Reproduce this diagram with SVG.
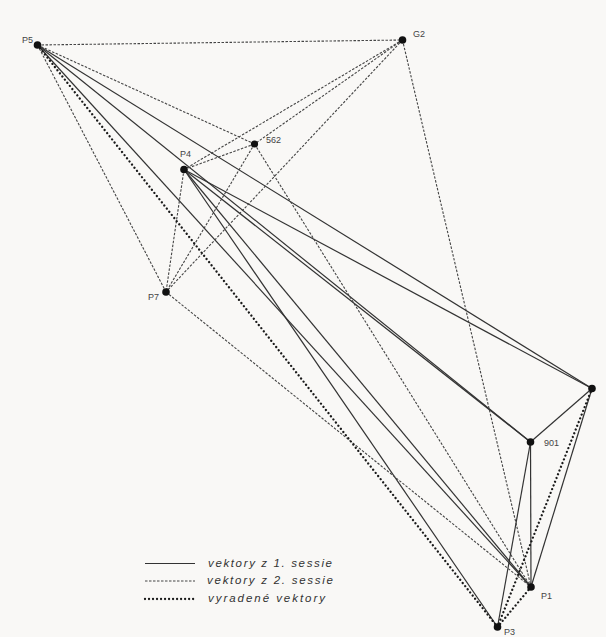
<svg xmlns="http://www.w3.org/2000/svg" width="606" height="637" viewBox="0 0 606 637">
<style>
.s{stroke:#333;stroke-width:1.2;fill:none}
.d{stroke:#444;stroke-width:1.1;stroke-dasharray:2.5 1.5;fill:none}
.v{stroke:#1a1a1a;stroke-width:2.3;stroke-dasharray:0.01 4;stroke-linecap:round;fill:none}
.pt{fill:#111}
.lb{font-family:"Liberation Sans","DejaVu Sans",sans-serif;font-size:9px;fill:#444}
.lg{font-family:"Liberation Sans","DejaVu Sans",sans-serif;font-size:11.5px;font-style:italic;fill:#333}
</style>
<rect width="606" height="637" fill="#f9f8f6"/>
<g id="connectors">
<line class="s" x1="37.5" y1="45" x2="592" y2="388.5"/>
<line class="s" x1="184" y1="169.5" x2="592" y2="388.5"/>
<line class="s" x1="37.5" y1="45" x2="530.5" y2="442"/>
<line class="s" x1="184" y1="169.5" x2="530.5" y2="442"/>
<line class="s" x1="37.5" y1="45" x2="531" y2="587"/>
<line class="s" x1="184" y1="169.5" x2="531" y2="587"/>
<line class="s" x1="184" y1="169.5" x2="497.5" y2="627"/>
<line class="s" x1="530.5" y1="442" x2="592" y2="388.5"/>
<line class="s" x1="530.5" y1="442" x2="531" y2="587"/>
<line class="s" x1="530.5" y1="442" x2="497.5" y2="627"/>
<line class="s" x1="592" y1="388.5" x2="531" y2="587"/>
<line class="d" x1="37.5" y1="45" x2="402.5" y2="40"/>
<line class="d" x1="37.5" y1="45" x2="254.5" y2="144"/>
<line class="d" x1="37.5" y1="45" x2="166" y2="292"/>
<line class="d" x1="402.5" y1="40" x2="184" y2="169.5"/>
<line class="d" x1="402.5" y1="40" x2="254.5" y2="144"/>
<line class="d" x1="402.5" y1="40" x2="166" y2="292"/>
<line class="d" x1="402.5" y1="40" x2="531" y2="587"/>
<line class="d" x1="254.5" y1="144" x2="184" y2="169.5"/>
<line class="d" x1="254.5" y1="144" x2="166" y2="292"/>
<line class="d" x1="254.5" y1="144" x2="531" y2="587"/>
<line class="d" x1="184" y1="169.5" x2="166" y2="292"/>
<line class="d" x1="166" y1="292" x2="531" y2="587"/>
<line class="v" x1="37.5" y1="45" x2="497.5" y2="627"/>
<line class="v" x1="592" y1="388.5" x2="497.5" y2="627"/>
<line class="v" x1="531" y1="587" x2="497.5" y2="627"/>
</g>
<g id="P5"><circle class="pt" cx="37.5" cy="45" r="3.8"/><text class="lb" x="22" y="43">P5</text></g>
<g id="G2"><circle class="pt" cx="402.5" cy="40" r="3.8"/><text class="lb" x="413" y="37">G2</text></g>
<g id="n562"><circle class="pt" cx="254.5" cy="144" r="3.6"/><text class="lb" x="266" y="143">562</text></g>
<g id="P4"><circle class="pt" cx="184" cy="169.5" r="3.8"/><text class="lb" x="180" y="157">P4</text></g>
<g id="P7"><circle class="pt" cx="166" cy="292" r="3.8"/><text class="lb" x="148" y="300">P7</text></g>
<g id="R"><circle class="pt" cx="592" cy="388.5" r="3.8"/></g>
<g id="n901"><circle class="pt" cx="530.5" cy="442" r="3.8"/><text class="lb" x="544" y="446">901</text></g>
<g id="P1"><circle class="pt" cx="531" cy="587" r="3.8"/><text class="lb" x="541" y="599">P1</text></g>
<g id="P3"><circle class="pt" cx="497.5" cy="627" r="3.8"/><text class="lb" x="504" y="635">P3</text></g>
<g id="legend">
<line class="s" x1="145" y1="563.5" x2="195" y2="563.5" stroke-width="1.3"/>
<text class="lg" x="208" y="567" textLength="124" lengthAdjust="spacing">vektory z 1. sessie</text>
<line class="d" x1="145" y1="581" x2="195" y2="581"/>
<text class="lg" x="207" y="584" textLength="126" lengthAdjust="spacing">vektory z 2. sessie</text>
<line class="v" x1="145" y1="599" x2="195" y2="599" stroke-width="1.8" stroke-dasharray="0.01 3.5"/>
<text class="lg" x="208" y="602" textLength="117" lengthAdjust="spacing">vyradené vektory</text>
</g>
</svg>
